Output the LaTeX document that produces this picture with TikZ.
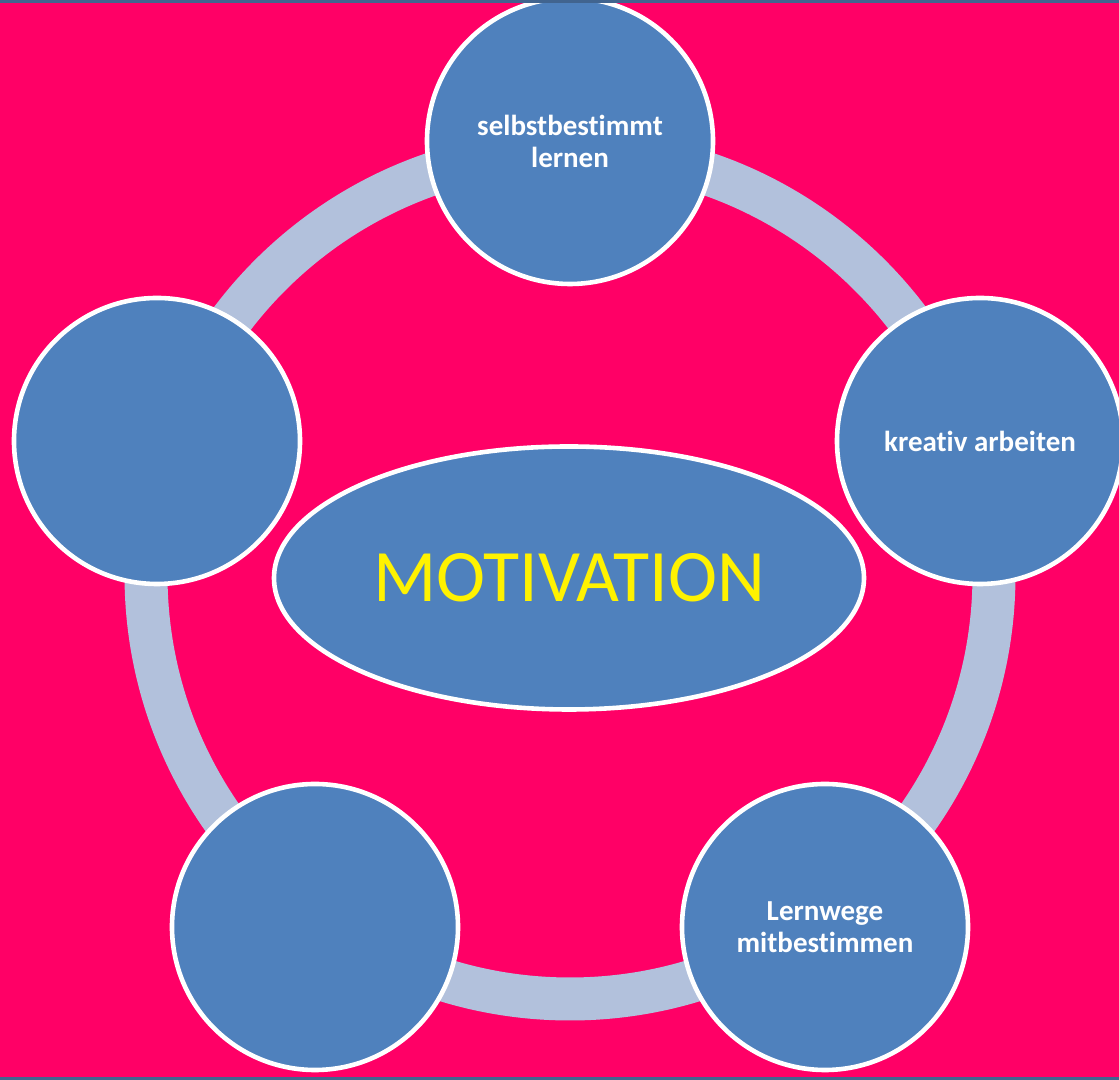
\documentclass[tikz,border=0pt]{standalone}
\usepackage{fontspec}
\setmainfont{Carlito}[Ligatures=CommonOff]
\usetikzlibrary{shapes.geometric}
\definecolor{pinkbg}{HTML}{FF0066}
\definecolor{topicblue}{HTML}{4F81BD}
\definecolor{ringgray}{HTML}{B2C1DC}
\definecolor{bandblue}{HTML}{41648F}
\begin{document}
\begin{tikzpicture}[x=0.5pt, y=0.5pt,
		topic/.style={circle, draw=white, line width=2.3pt, fill=topicblue, minimum size=143pt, inner sep=0pt, text=white, font=\bfseries\fontsize{14.5}{16}\selectfont, align=center},
		hub/.style={ellipse, draw=white, line width=2.3pt, fill=topicblue, minimum width=295pt, minimum height=131.5pt, inner sep=0pt, text=yellow, font=\fontsize{37}{41}\selectfont}]
		% Background
		\useasboundingbox (0,0) rectangle (1119,1080);
		\clip (0,0) rectangle (1119,1080);
		\fill[pinkbg] (0,0) rectangle (1119,1080);
		
		% Ring behind the circles
		\coordinate (centre) at (570,505);
		\draw[ringgray, line width=21.5pt] (centre) circle (424);
		
		% Outer nodes
		\node[topic] (top) at (570,939) {selbstbestimmt\\lernen};
		\node[topic] (right) at (980,639) {kreativ arbeiten};
		\node[topic] (botright) at (825,153) {Lernwege\\mitbestimmen};
		\node[topic] (botleft) at (315,153) {};
		\node[topic] (left) at (157,639) {};
		
		% Centre node
		\node[hub] (motivation) at (569,502) {MOTIVATION};
		
		% Bands at top and bottom
		\fill[bandblue] (0,1077) rectangle (1119,1080);
		\fill[bandblue] (0,0) rectangle (1119,3);
	\end{tikzpicture}
\end{document}
